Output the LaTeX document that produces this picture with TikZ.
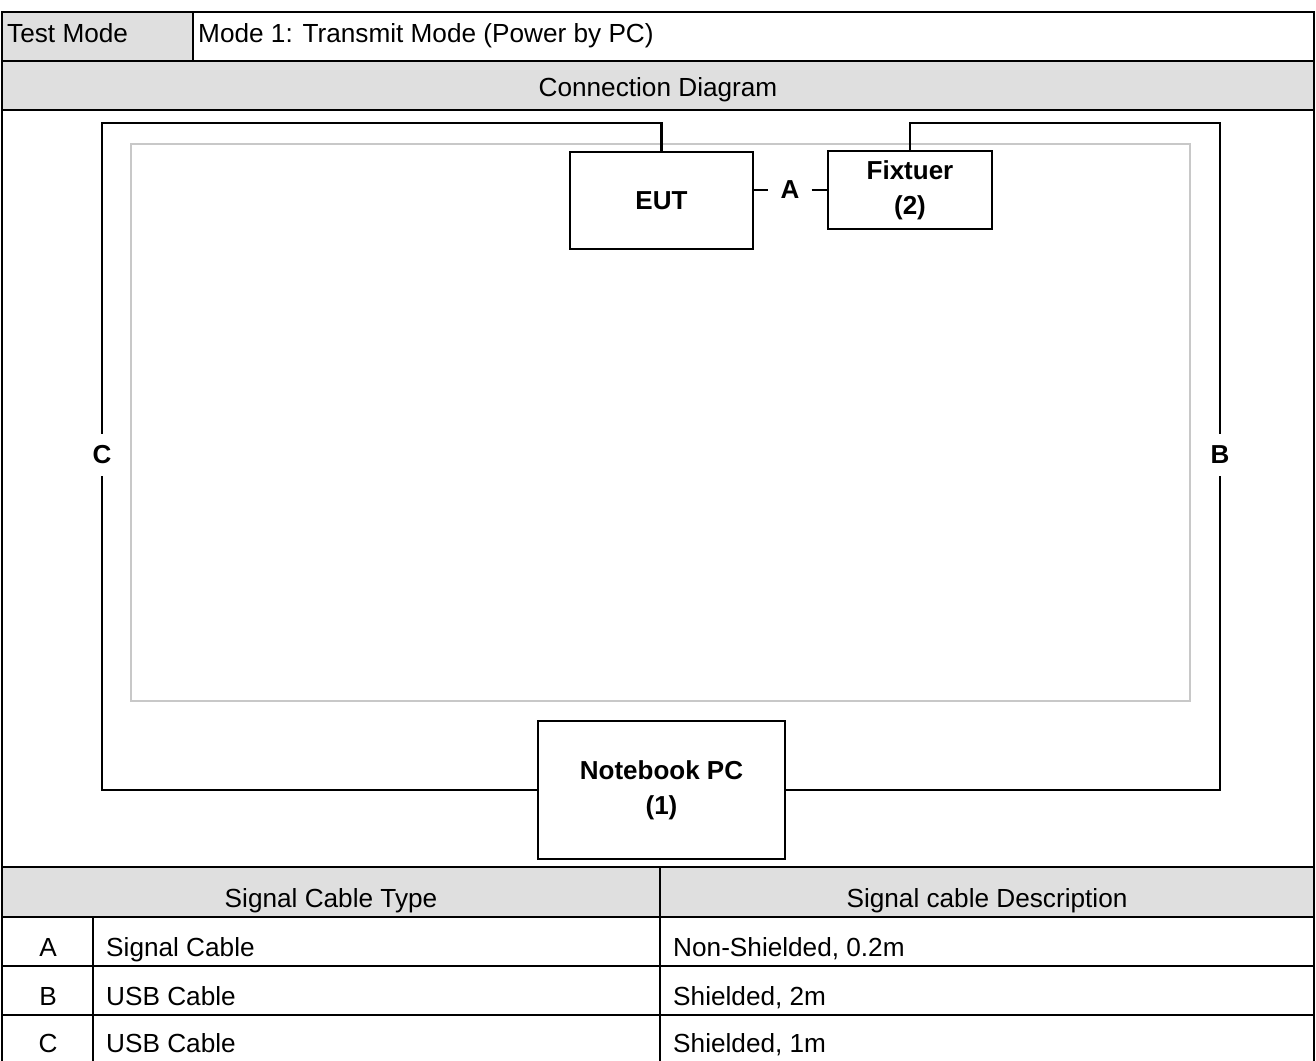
\documentclass[tikz,border=0pt]{standalone}
\usepackage{fontspec}
\setmainfont{Liberation Sans}
\usetikzlibrary{positioning}
\definecolor{hdrgray}{HTML}{DFDFDF}
\definecolor{framegray}{HTML}{C8C8C8}

\begin{document}
\begin{tikzpicture}[x=0.2mm, y=-0.2mm, line width=1.4pt,
  every node/.style={font=\fontsize{14.9}{18}\selectfont, inner sep=0pt},
  dev/.style={draw, line width=1.6pt, align=center, font=\fontsize{14.8}{20}\selectfont\bfseries},
  lab/.style={inner sep=2.2mm, font=\fontsize{14.8}{17}\selectfont\bfseries},
  txt/.style={anchor=base west}]
\useasboundingbox (0,0) rectangle (1316,1061);
% shaded cells
\fill[hdrgray] (2,12) rectangle (193,61);
\fill[hdrgray] (2,61) rectangle (1314,110);
\fill[hdrgray] (2,867) rectangle (1314,917);
% table rules
\draw (2,1061) -- (2,12) -- (1314,12) -- (1314,1061);
\foreach \y in {61,110,867,917,966,1015} \draw (2,\y) -- (1314,\y);
\draw (193,12) -- (193,61);
\draw (660,867) -- (660,1061);
\draw (93,917) -- (93,1061);
% test area
\draw[framegray, line width=0.6pt] (131,144) rectangle (1190,701);

% table texts
\node[txt] (tm) at (6,43) {Test Mode};
\node[txt] (mode) at (197,43) {Mode 1: Transmit Mode (Power by PC)};
\node[anchor=base] (cdg) at (658,97) {Connection Diagram};
\node[anchor=base] (sct) at (331,907) {Signal Cable Type};
\node[anchor=base] (scd) at (987,907) {Signal cable Description};
\node[anchor=base] (ra) at (48,956) {A};
\node[anchor=base] (rb) at (48,1005) {B};
\node[anchor=base] (rc) at (48,1052) {C};
\node[txt] (ta) at (105,956) {Signal Cable};
\node[txt] (tb) at (105,1005) {USB Cable};
\node[txt] (tc) at (105,1052) {USB Cable};
\node[txt] (da) at (672,956) {Non-Shielded, 0.2m};
\node[txt] (db) at (672,1005) {Shielded, 2m};
\node[txt] (dc) at (672,1052) {Shielded, 1m};

% devices
\node[dev, minimum width=36.6mm, minimum height=19.4mm] (eut) at (661.5,200.5) {EUT};
\node[dev, minimum width=32.8mm, minimum height=15.6mm] (fix) at (910,190) {Fixtuer\\(2)};
\node[dev, minimum width=49.4mm, minimum height=27.6mm] (pc) at (661.5,790) {Notebook PC\\(1)};

% cables
\node[lab] (labA) at (790,190) {A};
\node[lab] (labB) at (1220,455) {B};
\node[lab] (labC) at (102,455) {C};
\coordinate (topC) at (102,123);
\coordinate (topB) at (1220,123);
\draw (eut.east |- labA) -- (labA) -- (fix.west);
\draw (eut.north) |- (topC) -- (labC);
\draw (labC) |- (pc.west);
\draw (fix.north) |- (topB) -- (labB);
\draw (labB) |- (pc.east);
\end{tikzpicture}
\end{document}
